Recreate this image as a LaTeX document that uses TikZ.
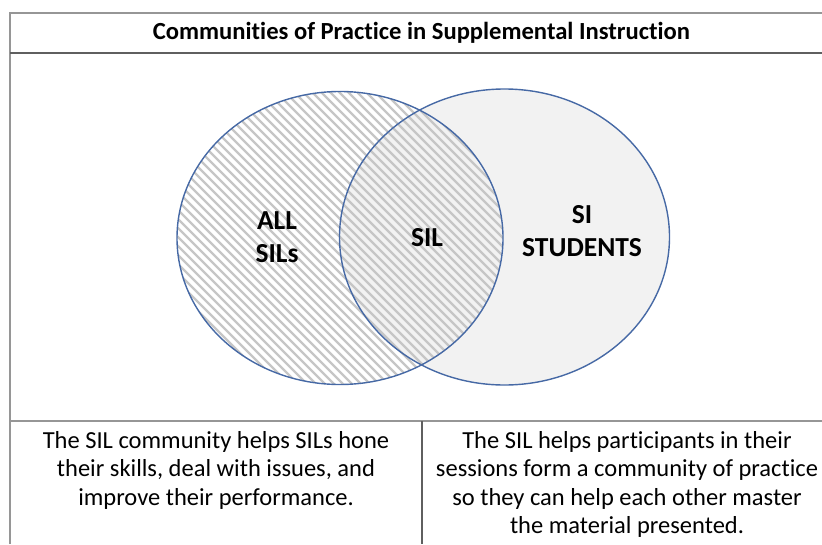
\documentclass[tikz,border=0pt]{standalone}
\usepackage{fontspec}
\setmainfont{Carlito}[Ligatures=NoCommon]
\definecolor{ringblue}{RGB}{70,105,165}
\definecolor{framegray}{RGB}{150,150,150}
\definecolor{rulegray}{RGB}{95,95,95}
\definecolor{shadegray}{RGB}{242,242,242}
\definecolor{hatchgray}{RGB}{198,198,198}

\begin{document}
\begin{tikzpicture}
        [x=1pt, y=-1pt,
        ring/.style={draw=ringblue, line width=1.4pt},
        hatch/.style={hatchgray, line width=2.2pt},
        setlabel/.style={font=\fontsize{27.5}{33}\selectfont\bfseries, align=center},
        note/.style={font=\fontsize{24.5}{28.5}\selectfont, align=center, anchor=base}]
        \useasboundingbox (0,0) rectangle (822,544);
        % table frame
        \draw[framegray, line width=2pt] (10,544) -- (10,13) -- (822,13);
        \draw[rulegray, line width=2pt] (10,53) -- (822,53);
        \draw[framegray, line width=2pt] (10,421) -- (822,421);
        \draw[rulegray, line width=1.5pt] (422,421) -- (422,544);
        \node (title) at (421.5,39) [anchor=base, font=\fontsize{24.6}{28}\selectfont\bfseries] {Communities of Practice in Supplemental Instruction};
        % the two sets
        \fill[shadegray] (504.5,237) ellipse [x radius=165, y radius=148];
        \begin{scope}
          \clip (340,238) ellipse [x radius=163, y radius=146.5];
          \foreach \c in {-212,-203,...,420}
            \draw[hatch] (\c+80,80) -- (\c+400,400);
        \end{scope}
        \draw[ring] (340,238) ellipse [x radius=163, y radius=146.5];
        \draw[ring] (504.5,237) ellipse [x radius=165, y radius=148];
        \node (allsils) at (277,237) [setlabel] {ALL\\SILs};
        \node (sil) at (427,238) [setlabel] {SIL};
        \node (sistudents) at (582,231.5) [setlabel] {SI\\STUDENTS};
        % captions (base = last line)
        \node (leftnote) at (216,505) [note] {The SIL community helps SILs hone\\their skills, deal with issues, and\\improve their performance.};
        \node (rightnote) at (627,533.5) [note] {The SIL helps participants in their\\sessions form a community of practice\\so they can help each other master\\the material presented.};
\end{tikzpicture}
\end{document}
